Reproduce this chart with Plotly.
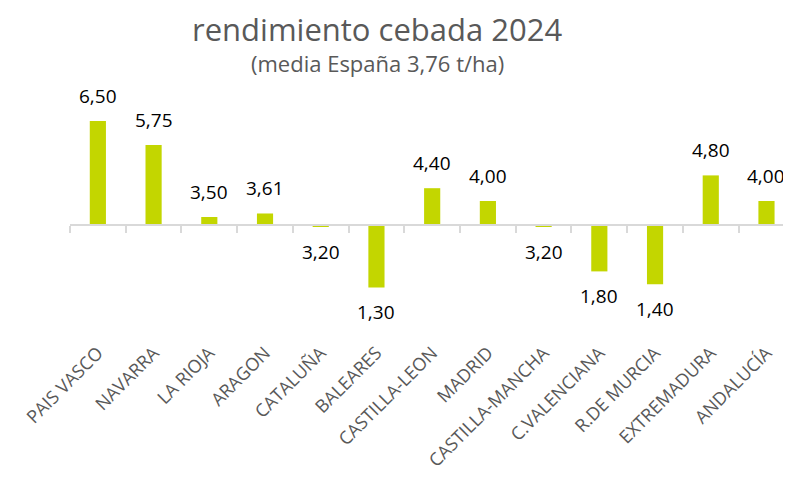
import plotly.graph_objects as go

regions = ["PAIS VASCO", "NAVARRA", "LA RIOJA", "ARAGON", "CATALUÑA", "BALEARES",
           "CASTILLA-LEON", "MADRID", "CASTILLA-MANCHA", "C.VALENCIANA",
           "R.DE MURCIA", "EXTREMADURA", "ANDALUCÍA"]
rendimiento = [6.50, 5.75, 3.50, 3.61, 3.20, 1.30, 4.40, 4.00, 3.20, 1.80, 1.40, 4.80, 4.00]
base_line = 3.25
labels = [f"{v:.2f}".replace(".", ",") for v in rendimiento]
title_text = "rendimiento cebada 2024"
subtitle_text = "(media España 3,76 t/ha)"

BAR = "#C3D600"
GRAY = "#595959"
AXIS = "#D9D9D9"
FONT = "Open Sans"

# page has an 8px body margin; figure sized so it fills the 791x479 window
W, H = 783, 471
ML, MR, MT, MB = 62, 0, 72, 141
plot_h = H - MT - MB
plot_w = W - ML - MR
px_per_unit = 32.0
base_px = 217
y_top = base_line + (base_px - MT) / px_per_unit
y_bot = base_line - (H - MB - base_px) / px_per_unit
base_frac = (base_line - y_bot) / (y_top - y_bot)

fig = go.Figure()
fig.add_trace(go.Bar(
    x=regions, y=[v - base_line for v in rendimiento], base=base_line,
    marker=dict(color=BAR, line=dict(width=0)), width=0.29,
    hoverinfo="skip", showlegend=False,
))
# invisible trace to carry the baseline axis
fig.add_trace(go.Scatter(
    x=regions, y=rendimiento, mode="markers", marker=dict(opacity=0),
    xaxis="x2", hoverinfo="skip", showlegend=False,
))

for r, v, t in zip(regions, rendimiento, labels):
    fig.add_annotation(x=r, y=v, text=t, showarrow=False, yanchor="middle",
                       yshift=25 if v >= base_line else -25,
                       font=dict(family=FONT, size=19, color="#000000"))

fig.add_annotation(xref="paper", yref="paper", x=(369 - ML) / plot_w,
                   y=(H - MB - 21) / plot_h, text=title_text,
                   xanchor="center", yanchor="middle", borderpad=0,
                   showarrow=False, font=dict(family=FONT, size=31, color=GRAY))
fig.add_annotation(xref="paper", yref="paper", x=(369 - ML) / plot_w,
                   y=(H - MB - 55) / plot_h, text=subtitle_text,
                   xanchor="center", yanchor="middle", borderpad=0,
                   showarrow=False, font=dict(family=FONT, size=22, color=GRAY))

fig.update_layout(
    width=W, height=H,
    margin=dict(l=ML, r=MR, t=MT, b=MB, autoexpand=False),
    paper_bgcolor="white", plot_bgcolor="white",
    xaxis=dict(type="category", range=[-0.5, 12.44], showline=False, ticks="",
               showgrid=False, zeroline=False, tickangle=-45, automargin=False,
               tickfont=dict(family=FONT, size=18, color=GRAY)),
    xaxis2=dict(type="category", matches="x", overlaying="x", anchor="free",
                position=base_frac, showline=True, linecolor=AXIS, linewidth=2,
                ticks="outside", tickson="boundaries", ticklen=7, tickwidth=1.5,
                tickcolor=AXIS, showticklabels=False, showgrid=False, zeroline=False,
                automargin=False),
    yaxis=dict(range=[y_bot, y_top], visible=False, showgrid=False, zeroline=False,
               automargin=False),
)

fig.write_html("out.html")
